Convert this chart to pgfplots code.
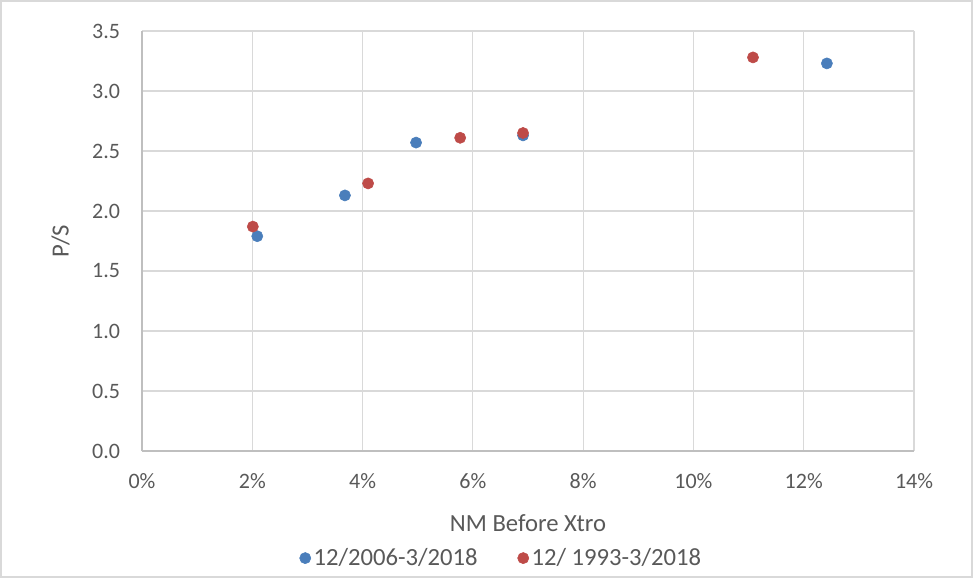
\documentclass[border=0pt]{standalone}
\usepackage{pgfplots}
\pgfplotsset{compat=1.18}
\usepackage{fontspec}
\setmainfont{Carlito}
\definecolor{txt}{HTML}{595959}
\definecolor{gridc}{HTML}{D9D9D9}
\definecolor{axc}{HTML}{BFBFBF}
\definecolor{serA}{HTML}{4A7EBB}
\definecolor{serB}{HTML}{BE4B48}
\begin{document}
\begin{tikzpicture}
% chart area: 729.75pt x 433.5pt
\useasboundingbox (0pt,0pt) rectangle (729.75pt,433.5pt);
\draw[color=gridc, line width=1.5pt] (0.75pt,0.75pt) rectangle (729pt,432.75pt);
\begin{axis}[
  at={(106.5pt,95.25pt)}, anchor=south west,
  scale only axis, width=579pt, height=315pt,
  xmin=0, xmax=14, ymin=0, ymax=3.5,
  xtick={0,2,...,14}, ytick={0,0.5,...,3.5},
  xticklabels={0\%,2\%,4\%,6\%,8\%,10\%,12\%,14\%},
  yticklabel style={/pgf/number format/fixed, /pgf/number format/fixed zerofill, /pgf/number format/precision=1},
  /pgf/number format/assume math mode=true,
  major tick length=0pt,
  grid=major, major grid style={color=gridc, line width=0.9pt},
  axis x line*=bottom, axis y line*=left,
  axis line style={-, color=axc, line width=1.1pt},
  tick label style={font=\fontsize{16.5}{18}\selectfont, color=txt},
  xticklabel style={yshift=-13pt},
  yticklabel style={xshift=-13pt},
  xlabel={NM Before Xtro}, ylabel={P/S},
  label style={font=\fontsize{18.5}{20}\selectfont, color=txt},
  xlabel style={yshift=-13pt},
  ylabel style={yshift=10pt},
  legend columns=2,
  legend style={draw=none, fill=none, at={(0.466,-0.255)}, anchor=center,
    font=\fontsize{18.5}{20}\selectfont, text=txt,
    /tikz/every even column/.append style={column sep=28pt}},
  legend cell align=left,
]
\addplot[only marks, mark=*, mark size=4.2pt, color=serA, mark options={fill=serA, draw=serA}]
  coordinates {(2.09,1.79) (3.68,2.13) (4.97,2.57) (6.91,2.63) (12.42,3.23)};
\addlegendentry{12/2006-3/2018}
\addplot[only marks, mark=*, mark size=4.2pt, color=serB, mark options={fill=serB, draw=serB}]
  coordinates {(2.01,1.87) (4.10,2.23) (5.77,2.61) (6.91,2.65) (11.08,3.28)};
\addlegendentry{12/ 1993-3/2018}
\end{axis}
\end{tikzpicture}
\end{document}
